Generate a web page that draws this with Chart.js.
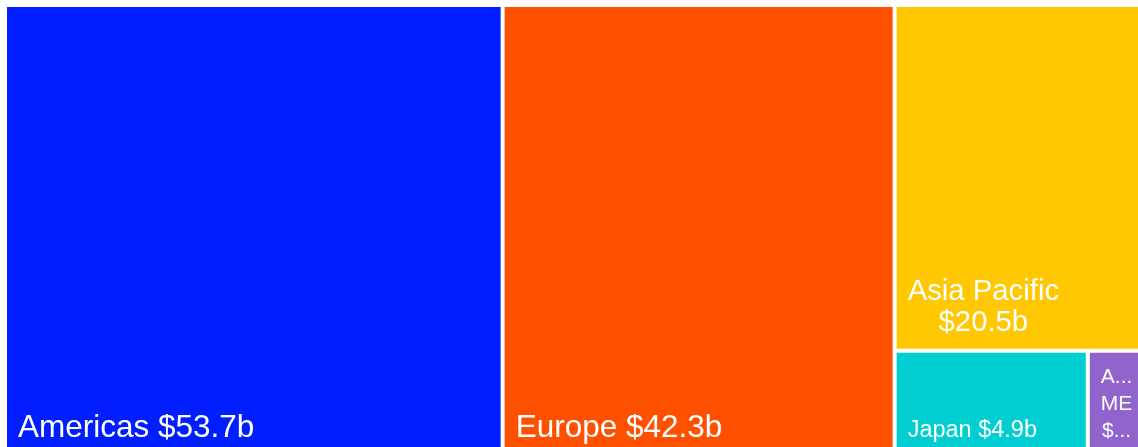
<!DOCTYPE html>
<html>
<head>
<meta charset="utf-8">
<script src="https://cdn.jsdelivr.net/npm/chart.js@4/dist/chart.umd.min.js"></script>
<style>
  html, body { margin: 0; padding: 0; background: #fff; overflow: hidden; }
  #wrap { position: absolute; left: 0; top: 0; width: 1148px; height: 462px; }
</style>
</head>
<body>
<div id="wrap"><canvas id="myChart" width="1148" height="462"></canvas></div>
<script>
// Data (revenue by region, $ billions)
const regions = ["Americas", "Europe", "Asia Pacific", "Japan", "Africa ME"];
const revenue = [53.7, 42.3, 20.5, 4.9, 1.4];

// Styles
const colors = ["#001eff", "#ff5000", "#ffc800", "#00ced1", "#9164cd"];
const fontSizes = [31.5, 31.5, 29.3, 23.5, 21];
const lineHeights = [34, 34, 31, 27, 27];

// Domain of the treemap (same units on both axes)
const domainW = 1138;
const domainH = 452;

function sum(arr) {
  return arr.reduce((a, b) => a + b, 0);
}

function worst(row, side, scale) {
  const s = sum(row) * scale;
  const max = Math.max(...row) * scale;
  const min = Math.min(...row) * scale;
  return Math.max((side * side * max) / (s * s), (s * s) / (side * side * min));
}

// Squarified treemap layout in data units
function squarify(vals, box) {
  const scale = (box.w * box.h) / sum(vals);
  let rects = [];
  let rect = { ...box };
  let i = 0;
  while (i < vals.length) {
    const side = Math.min(rect.w, rect.h);
    let row = [vals[i]];
    let j = i + 1;
    while (j < vals.length && worst([...row, vals[j]], side, scale) <= worst(row, side, scale)) {
      row.push(vals[j]);
      j++;
    }
    const rowArea = sum(row) * scale;
    if (rect.w >= rect.h) {
      const t = rowArea / rect.h;
      let yy = rect.y;
      row.forEach((v) => {
        const hh = (v * scale) / t;
        rects.push({ x: rect.x, y: yy, w: t, h: hh });
        yy += hh;
      });
      rect = { x: rect.x + t, y: rect.y, w: rect.w - t, h: rect.h };
    } else {
      const t = rowArea / rect.w;
      let xx = rect.x;
      row.forEach((v) => {
        const ww = (v * scale) / t;
        rects.push({ x: xx, y: rect.y, w: ww, h: t });
        xx += ww;
      });
      rect = { x: rect.x, y: rect.y + t, w: rect.w, h: rect.h - t };
    }
    i = j;
  }
  return rects;
}

const cells = squarify(revenue, { x: 0, y: 0, w: domainW, h: domainH });

// Word wrap, then cut words that still do not fit
function wrapLabel(ctx, text, maxW) {
  const words = text.split(" ");
  let lines = [];
  let cur = "";
  words.forEach((w) => {
    const test = cur ? cur + " " + w : w;
    if (cur && ctx.measureText(test).width > maxW) {
      lines.push(cur);
      cur = w;
    } else {
      cur = test;
    }
  });
  if (cur) lines.push(cur);
  return lines.map((line) => {
    if (ctx.measureText(line).width <= maxW) return line;
    let s = line;
    while (s.length > 1 && ctx.measureText(s + "...").width > maxW) s = s.slice(0, -1);
    return s + "...";
  });
}

const treemapPlugin = {
  id: "treemap",
  afterDatasetsDraw(chart) {
    const ctx = chart.ctx;
    const xs = chart.scales.x;
    const ys = chart.scales.y;
    ctx.save();
    cells.forEach((c, i) => {
      const x0 = xs.getPixelForValue(c.x) + 2;
      const x1 = xs.getPixelForValue(c.x + c.w) - 2;
      const y0 = ys.getPixelForValue(c.y) + 2;
      const y1 = ys.getPixelForValue(c.y + c.h) - 2;
      ctx.fillStyle = colors[i];
      ctx.fillRect(x0, y0, x1 - x0, y1 - y0);

      // label
      ctx.font = fontSizes[i] + 'px "Liberation Sans", Arial, sans-serif';
      ctx.fillStyle = "#ffffff";
      ctx.textBaseline = "alphabetic";
      ctx.textAlign = "center";
      const text = regions[i] + " $" + revenue[i] + "b";
      const lines = wrapLabel(ctx, text, x1 - x0 - 16);
      const blockW = Math.max(...lines.map((l) => ctx.measureText(l).width));
      const cx = x0 + 11 + blockW / 2;
      let base = y1 - 18 - (lines.length - 1) * lineHeights[i];
      lines.forEach((l) => {
        ctx.fillText(l, cx, base);
        base += lineHeights[i];
      });
    });
    ctx.restore();
  },
};

new Chart("myChart", {
  type: "scatter",
  data: {
    datasets: [{ data: [], pointRadius: 0 }],
  },
  options: {
    responsive: false,
    animation: false,
    devicePixelRatio: 1,
    layout: { padding: 5 },
    scales: {
      x: { type: "linear", min: 0, max: domainW, display: false },
      y: { type: "linear", min: 0, max: domainH, reverse: true, display: false },
    },
    plugins: {
      legend: { display: false },
      tooltip: { enabled: false },
    },
  },
  plugins: [treemapPlugin],
});
</script>
</body>
</html>
